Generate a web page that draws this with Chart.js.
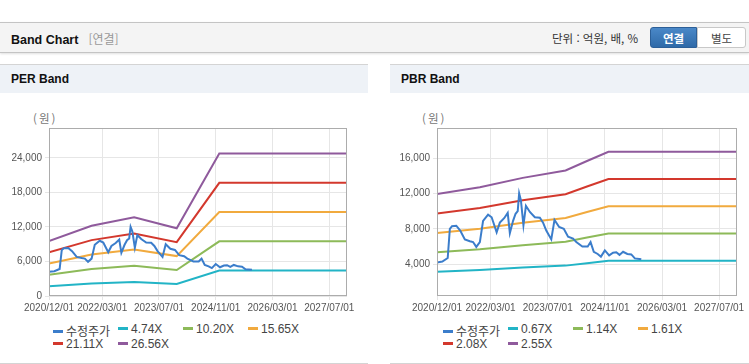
<!DOCTYPE html>
<html lang="ko">
<head>
<meta charset="utf-8">
<script src="https://cdn.jsdelivr.net/npm/chart.js@4.4.1/dist/chart.umd.min.js"></script>
<style>
  body { margin: 0; width: 749px; height: 364px; background: #fff; overflow: hidden; position: relative;
    font-family: "Liberation Sans", "Noto Sans CJK KR", sans-serif; }
  .topbar { position: absolute; left: 0; top: 22px; width: 749px; height: 29px; background: #f4f4f4;
    border-top: 1px solid #c4c4c4; border-bottom: 1px solid #c4c4c4; box-shadow: 0 1px 2px rgba(0,0,0,.12); }
  .topbar .title { position: absolute; left: 11px; top: 7px; font-weight: bold; font-size: 12.5px; color: #111; }
  .topbar .title span { color: #999; font-weight: normal; font-size: 12px; margin-left: 10px; font-family: "Noto Sans CJK KR"; }
  .unit { position: absolute; left: 552px; top: 7px; font-size: 11.5px; color: #333; font-family: "Noto Sans CJK KR"; }
  .btn { position: absolute; top: 4px; height: 21px; width: 47px; text-align: center; line-height: 21px;
    font-size: 11.5px; font-family: "Noto Sans CJK KR"; box-sizing: border-box; }
  .btn.on { left: 650px; background: linear-gradient(#4a88c8, #2f6aa8); color: #fff; font-weight: bold;
    border: 1px solid #2c5f98; border-radius: 3px 0 0 3px; }
  .btn.off { left: 697px; width: 49px; background: #fff; color: #444; border: 1px solid #c8c8c8; border-radius: 0 3px 3px 0; }
  .panel { position: absolute; top: 64px; height: 298px; border-top: 1px solid #d4d4d4; border-bottom: 1px solid #d4d4d4; }
  .panel .head { height: 28px; line-height: 28px; background: #eef2f7; font-weight: bold; font-size: 12px; color: #111; padding-left: 11px; }
  .panel .unitlabel { position: absolute; top: 45px; font-size: 11.5px; color: #777; font-family: "Noto Sans CJK KR"; letter-spacing: 2px; }
  .legend { position: absolute; top: 257px; left: 0; width: 100%; }
  .legend .item { position: absolute; font-size: 12px; color: #444; white-space: nowrap; }
  .legend .item i { display: inline-block; width: 10px; height: 3px; vertical-align: middle; margin-right: 3px; margin-top: -2px; }
  canvas { position: absolute; }
</style>
</head>
<body>
<div class="topbar">
  <div class="title">Band Chart<span>[연결]</span></div>
  <div class="unit">단위 : 억원, 배, %</div>
  <div class="btn on">연결</div>
  <div class="btn off">별도</div>
</div>

<div class="panel" style="left:0; width:368px">
  <div class="head">PER Band</div>
  <div class="unitlabel" style="left:33px">(원)</div>
  <div class="legend" id="perLegend"></div>
</div>
<div class="panel" style="left:390px; width:359px">
  <div class="head">PBR Band</div>
  <div class="unitlabel" style="left:32px">(원)</div>
  <div class="legend" id="pbrLegend"></div>
</div>

<canvas id="perChart" style="left:0; top:104px" width="368" height="212"></canvas>
<canvas id="pbrChart" style="left:390px; top:104px" width="359" height="212"></canvas>

<script>
// x axis: months since 2020/12
const tickMonths = [0, 15, 31, 47, 63, 79]
const tickLabels = ['2020/12/01', '2022/03/01', '2023/07/01', '2024/11/01', '2026/03/01', '2027/07/01']

// 수정주가
const priceMonths = [0, 1.5, 3, 3.6, 4.2, 5.4, 6.5, 7.8, 9.2, 10.1, 11, 12, 12.9, 14.3, 15.3, 16.7, 17.6, 18.8,
  19.8, 20.4, 21.3, 22, 22.6, 23, 23.5, 24.2, 24.9, 26, 27.4, 28.8, 29.7, 30.6, 32, 32.9, 34.2, 35.5, 36.7,
  38.1, 39, 40.7, 42.2, 43, 43.9, 45, 45.9, 47, 48.2, 49.3, 50.2, 51.1, 52.1, 53.3, 54.4, 55.4, 57.2]
const priceValues = [4200, 4300, 4700, 8000, 8300, 8350, 7800, 6800, 6600, 6500, 5950, 6500, 8900, 9600, 9300, 7600, 8700, 9200,
  9800, 7500, 8900, 9700, 10000, 12000, 11200, 8400, 10600, 9900, 9300, 9250, 8700, 7800, 6800, 9000, 8200, 8000, 7100,
  6900, 6500, 6000, 6000, 6500, 5400, 5150, 4850, 5550, 5000, 5300, 5350, 5050, 5400, 5150, 5100, 4650, 4550]

// PER band
const perNames = ['4.74X', '10.20X', '15.65X', '21.11X', '26.56X']
const perMonths = [0, 12, 24, 36, 48, 84]
const per1 = [1706, 2180, 2441, 2100, 4418, 4418]
const per2 = [3672, 4692, 5253, 4519, 9506, 9506]
const per3 = [5634, 7199, 8060, 6933, 14586, 14586]
const per4 = [7600, 9711, 10872, 9352, 19675, 19675]
const per5 = [9562, 12218, 13678, 11766, 24754, 24754]
const perTicks = [0, 6000, 12000, 18000, 24000]

// PBR band
const pbrNames = ['0.67X', '1.14X', '1.61X', '2.08X', '2.55X']
const pbrMonths = [0, 12, 24, 36, 42, 48, 84]
const pbr1 = [3136, 3337, 3615, 3836, 4117, 4389, 4389]
const pbr2 = [5335, 5677, 6151, 6527, 7005, 7467, 7467]
const pbr3 = [7535, 8018, 8688, 9217, 9893, 10546, 10546]
const pbr4 = [9734, 10358, 11224, 11908, 12782, 13624, 13624]
const pbr5 = [11934, 12699, 13760, 14599, 15670, 16703, 16703]
const pbrTicks = [4000, 8000, 12000, 16000]

const colors = ['#3b7dcb', '#22b4c6', '#8dba59', '#f1aa3e', '#d3382d', '#8f5a9c']

Chart.defaults.font.family = "'Liberation Sans', 'Noto Sans CJK KR', sans-serif"
Chart.defaults.animation = false

const toPoints = (xs, ys) => xs.map((x, i) => ({ x: x, y: ys[i] }))

const buildDatasets = (names, months, bands) => {
  const sets = [{ label: '수정주가', data: toPoints(priceMonths, priceValues) }]
  bands.forEach((b, i) => sets.push({ label: names[i], data: toPoints(months, b) }))
  return sets.map((s, i) => Object.assign(s, {
    borderColor: colors[i], backgroundColor: colors[i], borderWidth: 2, pointRadius: 0, tension: 0, fill: false
  }))
}

//plot frame on all four sides
const frame = {
  id: 'frame',
  afterDraw(chart) {
    const a = chart.chartArea, ctx = chart.ctx
    ctx.save()
    ctx.strokeStyle = '#acacac'
    ctx.lineWidth = 1
    ctx.strokeRect(a.left + 0.5, a.top + 0.5, a.width - 1, a.height - 1)
    ctx.restore()
  }
}

const makeChart = (id, datasets, yMin, yMax, yTicks, yWidth, padRight) => new Chart(document.getElementById(id), {
  type: 'line',
  data: { datasets: datasets },
  options: {
    responsive: false,
    layout: { padding: { top: 24, right: padRight, left: 0, bottom: 0 } },
    scales: {
      x: {
        type: 'linear', min: 0, max: 84,
        afterBuildTicks: s => { s.ticks = tickMonths.map(v => ({ value: v })) },
        afterFit: s => { s.height = 20 },
        grid: { color: '#e6e6e6', tickLength: 4, drawTicks: true },
        border: { display: false },
        ticks: { autoSkip: false, maxRotation: 0, padding: 2, color: '#555', font: { size: 10 },
          callback: v => tickLabels[tickMonths.indexOf(v)] }
      },
      y: {
        min: yMin, max: yMax,
        afterBuildTicks: s => { s.ticks = yTicks.map(v => ({ value: v })) },
        afterFit: s => { s.width = yWidth },
        grid: { color: '#e6e6e6', tickLength: 4 },
        border: { display: false },
        ticks: { padding: 3, color: '#555', font: { size: 10 }, callback: v => v.toLocaleString('en-US') }
      }
    },
    plugins: { legend: { display: false }, tooltip: { enabled: false } }
  },
  plugins: [frame]
})

//HTML legend, 4 columns
const buildLegend = (el, datasets) => {
  datasets.forEach((d, i) => {
    const item = document.createElement('div')
    item.className = 'item'
    item.style.left = (53 + (i % 4) * 65) + 'px'
    item.style.top = (Math.floor(i / 4) * 15) + 'px'
    item.innerHTML = `<i style="background:${d.borderColor}"></i>${d.label}`
    el.appendChild(item)
  })
}

const perSets = buildDatasets(perNames, perMonths, [per1, per2, per3, per4, per5])
const pbrSets = buildDatasets(pbrNames, pbrMonths, [pbr1, pbr2, pbr3, pbr4, pbr5])

makeChart('perChart', perSets, 0, 29200, perTicks, 49, 21)
makeChart('pbrChart', pbrSets, 400, 19400, pbrTicks, 47, 12)

buildLegend(document.getElementById('perLegend'), perSets)
buildLegend(document.getElementById('pbrLegend'), pbrSets)
</script>
</body>
</html>
